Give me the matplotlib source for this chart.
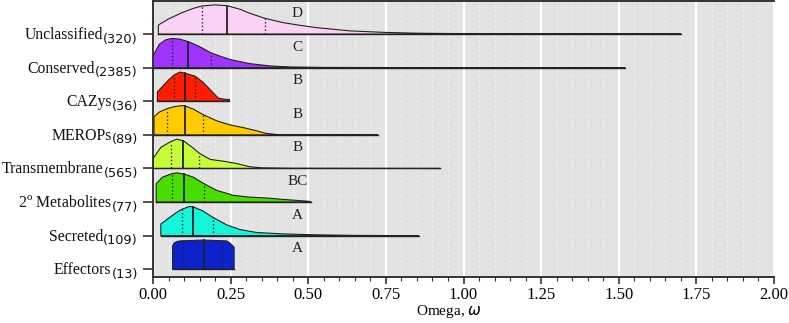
import numpy as np
import matplotlib
matplotlib.use("Agg")
import matplotlib.pyplot as plt
import matplotlib.transforms as mtransforms
from matplotlib.ticker import MultipleLocator

plt.rcParams['font.family'] = ['Liberation Serif', 'DejaVu Sans']
plt.rcParams['mathtext.fontset'] = 'custom'
plt.rcParams['mathtext.rm'] = 'Liberation Serif'
plt.rcParams['mathtext.sf'] = 'DejaVu Sans'
plt.rcParams['mathtext.it'] = 'DejaVu Sans:italic'

# categories, top to bottom
categories = ['Unclassified', 'Conserved', 'CAZys', 'MEROPs', 'Transmembrane',
              r'2$^{\mathrm{o}}$ Metabolites', 'Secreted', 'Effectors']
counts = [320, 2385, 36, 89, 565, 77, 109, 13]
letters = ['D', 'C', 'B', 'B', 'B', 'BC', 'A', 'A']
colors = ['#FAD2F6', '#A033FF', '#FF1C00', '#FFCC00', '#C6FF3A',
          '#48DD00', '#14F5DA', '#0C22CC']

q1 = [0.157, 0.060, 0.069, 0.046, 0.057, 0.060, 0.092, 0.098]
medians = [0.239, 0.114, 0.104, 0.103, 0.098, 0.100, 0.130, 0.164]
q3 = [0.360, 0.186, 0.136, 0.162, 0.149, 0.164, 0.192, 0.221]

# density outlines (x, relative height)
unclassified_x = [0.017, 0.05, 0.097, 0.13, 0.157, 0.20, 0.239, 0.28, 0.312, 0.36, 0.42,
                  0.473, 0.527, 0.634, 0.74, 0.85, 1.0, 1.2, 1.45, 1.70]
unclassified_d = [0.31, 0.52, 0.75, 0.88, 0.96, 1.0, 0.97, 0.85, 0.71, 0.54, 0.39,
                  0.30, 0.22, 0.11, 0.06, 0.03, 0.015, 0.008, 0.004, 0.0]
conserved_x = [0.0, 0.02, 0.04, 0.06, 0.085, 0.114, 0.15, 0.186, 0.22, 0.248,
               0.31, 0.376, 0.44, 0.55, 0.75, 1.0, 1.52]
conserved_d = [0.40, 0.80, 0.95, 1.0, 0.98, 0.89, 0.72, 0.51, 0.38, 0.28,
               0.14, 0.06, 0.025, 0.01, 0.005, 0.003, 0.0]
cazys_x = [0.014, 0.04, 0.055, 0.069, 0.087, 0.104, 0.136, 0.162, 0.189, 0.21, 0.23, 0.246]
cazys_d = [0.32, 0.62, 0.78, 0.91, 1.0, 0.955, 0.86, 0.64, 0.34, 0.11, 0.07, 0.06]
merops_x = [0.003, 0.02, 0.046, 0.07, 0.092, 0.103, 0.13, 0.162, 0.205, 0.248,
            0.29, 0.333, 0.365, 0.40, 0.724]
merops_d = [0.62, 0.78, 0.90, 0.97, 1.0, 0.99, 0.88, 0.69, 0.48, 0.34,
            0.25, 0.14, 0.05, 0.01, 0.0]
transmem_x = [0.0, 0.025, 0.057, 0.076, 0.098, 0.13, 0.149, 0.184, 0.226, 0.269,
              0.311, 0.35, 0.45, 0.924]
transmem_d = [0.34, 0.72, 0.92, 1.0, 0.95, 0.69, 0.52, 0.31, 0.25, 0.17,
              0.06, 0.02, 0.005, 0.0]
metab_x = [0.01, 0.03, 0.06, 0.076, 0.10, 0.13, 0.164, 0.205, 0.259, 0.311,
           0.365, 0.42, 0.473, 0.508]
metab_d = [0.63, 0.85, 0.97, 1.0, 0.96, 0.85, 0.63, 0.40, 0.23, 0.17,
           0.14, 0.09, 0.05, 0.02]
secreted_x = [0.025, 0.054, 0.075, 0.092, 0.117, 0.13, 0.16, 0.192, 0.237, 0.28, 0.333,
              0.42, 0.52, 0.65, 0.855]
secreted_d = [0.40, 0.63, 0.79, 0.90, 1.0, 0.98, 0.85, 0.63, 0.37, 0.21, 0.11,
              0.06, 0.03, 0.01, 0.0]
effectors_x = [0.063, 0.068, 0.077, 0.087, 0.16, 0.237, 0.247, 0.255, 0.261]
effectors_d = [0.80, 0.90, 0.95, 0.97, 1.0, 0.97, 0.90, 0.82, 0.76]

curves_x = [unclassified_x, conserved_x, cazys_x, merops_x, transmem_x,
            metab_x, secreted_x, effectors_x]
curves_d = [unclassified_d, conserved_d, cazys_d, merops_d, transmem_d,
            metab_d, secreted_d, effectors_d]

peak = 0.87  # ridge height in row units
n = len(categories)

fig = plt.figure(figsize=(7.89, 3.23), dpi=100)
ax = fig.add_axes([0.194, 0.1424, 0.787, 0.854])
ax.set_facecolor('#E3E3E3')

ax.xaxis.set_major_locator(MultipleLocator(0.25))
ax.xaxis.set_minor_locator(MultipleLocator(0.05))
ax.grid(which='major', axis='x', color='white', lw=1.6, zorder=0)
ax.grid(which='minor', axis='x', color='white', lw=0.6, ls=(0, (3, 3)), alpha=0.7, zorder=0)
ax.set_axisbelow(True)

for i in range(n):
    base = n - 1 - i
    x = np.array(curves_x[i])
    h = base + peak * np.array(curves_d[i])
    px = np.concatenate([[x[0]], x, [x[-1]]])
    py = np.concatenate([[base], h, [base]])
    ax.fill(px, py, facecolor=colors[i], edgecolor='#222222', lw=0.8,
            joinstyle='round', zorder=2)
    ax.plot([x[0], x[-1]], [base, base], color='#222222', lw=1.0, zorder=3)
    for v, ls, lw in [(q1[i], ':', 1.0), (medians[i], '-', 1.3), (q3[i], ':', 1.0)]:
        top = base + peak * np.interp(v, x, curves_d[i])
        ax.plot([v, v], [base, top], color='#222222', ls=ls, lw=lw, zorder=3)
    ax.text(0.465, base + 0.61, letters[i], ha='center', va='center',
            fontsize=11, color='#222222', zorder=4)

ax.set_xlim(0, 2.0)
ax.set_ylim(-0.23, 7.98)
ax.set_yticks(range(n))
ax.set_yticklabels([''] * n)
ax.set_xticks(np.arange(0, 2.01, 0.25))
ax.set_xticklabels([f'{v:.2f}' for v in np.arange(0, 2.01, 0.25)], fontsize=12)
ax.set_xlabel(r'Omega, $\omega$', fontsize=11)
ax.xaxis.set_label_coords(0.477, -0.093)

# y labels: name + larger sans subscript count
renderer = fig.canvas.get_renderer()
ytrans = mtransforms.blended_transform_factory(ax.transAxes, ax.transData)
for i in range(n):
    base = n - 1 - i
    sub = ax.text(0, base, f'({counts[i]})', fontsize=9.3, family='DejaVu Sans',
                  ha='right', va='baseline', color='#111111',
                  transform=ytrans + mtransforms.ScaledTranslation(-0.15, -0.085, fig.dpi_scale_trans))
    w = sub.get_window_extent(renderer).width / fig.dpi
    ax.text(0, base, categories[i], fontsize=11.3, ha='right', va='baseline', color='#111111',
            transform=ytrans + mtransforms.ScaledTranslation(-0.15 - w, -0.05, fig.dpi_scale_trans))

ax.spines['right'].set_visible(False)
for s in ['left', 'bottom', 'top']:
    ax.spines[s].set_color('#333333')
    ax.spines[s].set_linewidth(1.4)
ax.tick_params(axis='y', length=7, width=1.2, color='#333333', pad=3)
ax.tick_params(axis='x', which='major', length=5, width=1.2, color='#333333', pad=2)
ax.tick_params(axis='x', which='minor', length=3, width=0.8, color='#333333')

fig.savefig('out.png', dpi=100)
